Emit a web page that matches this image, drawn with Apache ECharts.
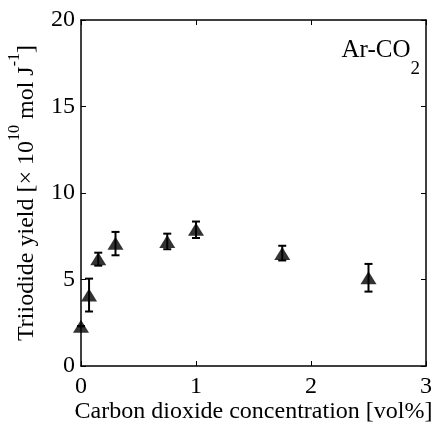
<!DOCTYPE html>
<html>
<head>
<meta charset="utf-8">
<script src="https://cdn.jsdelivr.net/npm/echarts@6/dist/echarts.min.js"></script>
<style>
html, body { margin: 0; padding: 0; background: #fff; }
#main { width: 437px; height: 423px; }
</style>
</head>
<body>
<div id="main"></div>
<script>
// 数据：CO2 浓度 [vol%]，三碘化物产额及误差上下限
var concentration = [0, 0.07, 0.15, 0.3, 0.75, 1.0, 1.75, 2.5];
var yieldValue = [2.3, 4.1, 6.2, 7.1, 7.2, 7.9, 6.5, 5.1];
var errLow = [2.3, 3.15, 5.8, 6.4, 6.75, 7.4, 6.1, 4.3];
var errHigh = [2.3, 5.05, 6.55, 7.75, 7.65, 8.35, 6.95, 5.9];
var xTicks = [0, 1, 2, 3];
var yTicks = [0, 5, 10, 15, 20];

var font = '"Liberation Serif", "Times New Roman", serif';

var points = concentration.map(function (c, i) { return [c, yieldValue[i]]; });
var bars = concentration.map(function (c, i) { return [c, errLow[i], errHigh[i]]; });

// 误差线，带上下端帽
function renderErr(params, api) {
    var lo = api.coord([api.value(0), api.value(1)]);
    var hi = api.coord([api.value(0), api.value(2)]);
    var w = 4;
    var st = { stroke: '#000', lineWidth: 2 };
    return {
        type: 'group',
        children: [
            { type: 'line', shape: { x1: lo[0], y1: lo[1], x2: hi[0], y2: hi[1] }, style: st },
            { type: 'line', shape: { x1: lo[0] - w, y1: lo[1], x2: lo[0] + w, y2: lo[1] }, style: st },
            { type: 'line', shape: { x1: hi[0] - w, y1: hi[1], x2: hi[0] + w, y2: hi[1] }, style: st }
        ]
    };
}

var axisCommon = {
    axisLine: { show: true, onZero: false, lineStyle: { color: '#000', width: 1.5 } },
    axisTick: { show: true, inside: true, length: 5, lineStyle: { color: '#000', width: 1 } },
    splitLine: { show: false }
};

var myChart = echarts.init(document.getElementById('main'));
myChart.setOption({
    animation: false,
    backgroundColor: '#fff',
    grid: { left: 81, right: 11, top: 20, bottom: 57, outerBoundsMode: 'none', containLabel: false },
    xAxis: [
        Object.assign({
            type: 'value', min: xTicks[0], max: xTicks[xTicks.length - 1], interval: 1,
            position: 'bottom',
            axisLabel: { color: '#000', fontFamily: font, fontSize: 24, margin: 9 },
            name: 'Carbon dioxide concentration [vol%]',
            nameLocation: 'middle', nameGap: 34, nameMoveOverlap: false,
            nameTextStyle: { color: '#000', fontFamily: font, fontSize: 24 }
        }, axisCommon),
        Object.assign({
            type: 'value', min: xTicks[0], max: xTicks[xTicks.length - 1], interval: 1,
            position: 'top', axisLabel: { show: false }
        }, axisCommon)
    ],
    yAxis: [
        Object.assign({
            type: 'value', min: yTicks[0], max: yTicks[yTicks.length - 1], interval: 5,
            position: 'left',
            axisLabel: { color: '#000', fontFamily: font, fontSize: 24, margin: 6 },
            name: '{t|Triiodide yield [× 10}{s|10}{t| mol J}{s|-1}{t|]}',
            nameLocation: 'middle', nameGap: 42, nameMoveOverlap: false,
            nameTextStyle: {
                color: '#000', fontFamily: font, fontSize: 24,
                rich: {
                    t: { fontFamily: font, fontSize: 24, color: '#000', lineHeight: 32, verticalAlign: 'bottom' },
                    s: { fontFamily: font, fontSize: 16, color: '#000', lineHeight: 32, verticalAlign: 'top' }
                }
            }
        }, axisCommon),
        Object.assign({
            type: 'value', min: yTicks[0], max: yTicks[yTicks.length - 1], interval: 5,
            position: 'right', axisLabel: { show: false }
        }, axisCommon)
    ],
    graphic: [{
        type: 'text', right: 17, top: 38,
        style: {
            text: '{t|Ar-CO}{s|2}',
            rich: {
                t: { fontFamily: font, fontSize: 25, fill: '#000', lineHeight: 41, verticalAlign: 'top' },
                s: { fontFamily: font, fontSize: 19, fill: '#000', lineHeight: 41, verticalAlign: 'bottom' }
            }
        }
    }],
    series: [
        {
            type: 'custom', renderItem: renderErr, data: bars,
            encode: { x: 0, y: [1, 2] }, z: 2
        },
        {
            type: 'scatter', data: points, symbol: 'triangle', symbolSize: [16, 13],
            itemStyle: { color: '#000' }, z: 3
        }
    ]
});
</script>
</body>
</html>
